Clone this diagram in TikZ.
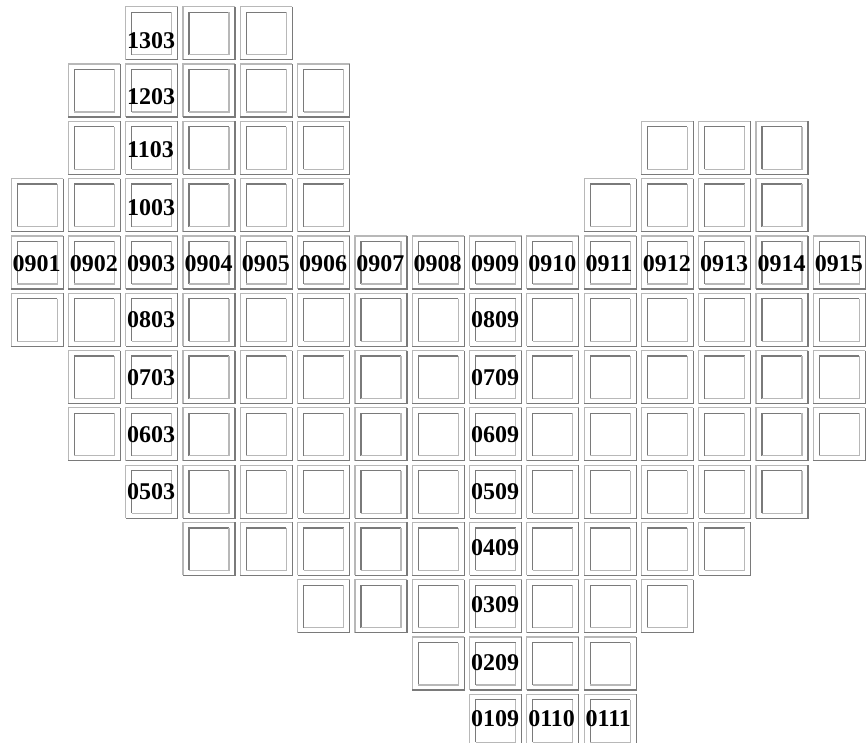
\documentclass[tikz,border=0pt]{standalone}
\usepackage{fontspec}
\setmainfont{Liberation Serif}
\definecolor{lite}{HTML}{B8B8B8}
\definecolor{dark}{HTML}{7A7A7A}
\tikzset{
  cellnode/.style={minimum width=52pt, minimum height=53pt, inner sep=0pt, outer sep=0pt},
  innernode/.style={minimum width=40pt, minimum height=42.5pt, inner sep=0pt, outer sep=0pt},
  edge/.style={line width=1.2pt},
  lbl/.style={font=\bfseries\fontsize{24}{29}\selectfont, inner sep=0pt, outer sep=0pt, anchor=base west, text=black}
}
\begin{document}
\begin{tikzpicture}[x=1pt,y=-1pt]
\useasboundingbox (0,0) rectangle (866,743);
\foreach \r/\cs in {13/{3,4,5}, 12/{2,...,6}, 11/{2,...,6,12,13,14}, 10/{1,...,6,11,12,13,14},
  9/{1,...,15}, 8/{1,...,15}, 7/{2,...,15}, 6/{2,...,15}, 5/{3,...,14}, 4/{4,...,13},
  3/{6,...,12}, 2/{8,...,11}, 1/{9,10,11}} {
  \foreach \c in \cs {
    \node[cellnode] (T-\r-\c) at ({11.1+(\c-1)*57.3+26},{6.7+(13-\r)*57.3+26.5}) {};
    \node[innernode] (I-\r-\c) at ({11.1+(\c-1)*57.3+26},{6.7+(13-\r)*57.3+26.75}) {};
    \draw[lite,edge] (T-\r-\c.south west) -- (T-\r-\c.north west) -- (T-\r-\c.north east);
    \draw[dark,edge] (T-\r-\c.north east) -- (T-\r-\c.south east) -- (T-\r-\c.south west);
    \draw[dark,edge] (I-\r-\c.south west) -- (I-\r-\c.north west) -- (I-\r-\c.north east);
    \draw[lite,edge] (I-\r-\c.north east) -- (I-\r-\c.south east) -- (I-\r-\c.south west);
  }
}
\foreach \c/\r/\t/\o in {
  1/9/0901/1, 2/9/0902/1, 3/9/0903/1, 4/9/0904/1, 5/9/0905/1, 6/9/0906/1, 7/9/0907/1, 8/9/0908/1,
  9/9/0909/1, 10/9/0910/1, 11/9/0911/1, 12/9/0912/1, 13/9/0913/1, 14/9/0914/1, 15/9/0915/1,
  3/13/1303/7, 3/12/1203/6, 3/11/1103/1, 3/10/1003/2, 3/8/0803/-1, 3/7/0703/0, 3/6/0603/0, 3/5/0503/0,
  9/8/0809/-1, 9/7/0709/0, 9/6/0609/0, 9/5/0509/0, 9/4/0409/-2, 9/3/0309/-2, 9/2/0209/-1, 9/1/0109/-3,
  10/1/0110/-3, 11/1/0111/-3} {
  \node[lbl] (L\t) at ({11.1+(\c-1)*57.3+1.5},{6.7+(13-\r)*57.3+34.8+\o}) {\t};
}
\end{tikzpicture}
\end{document}
